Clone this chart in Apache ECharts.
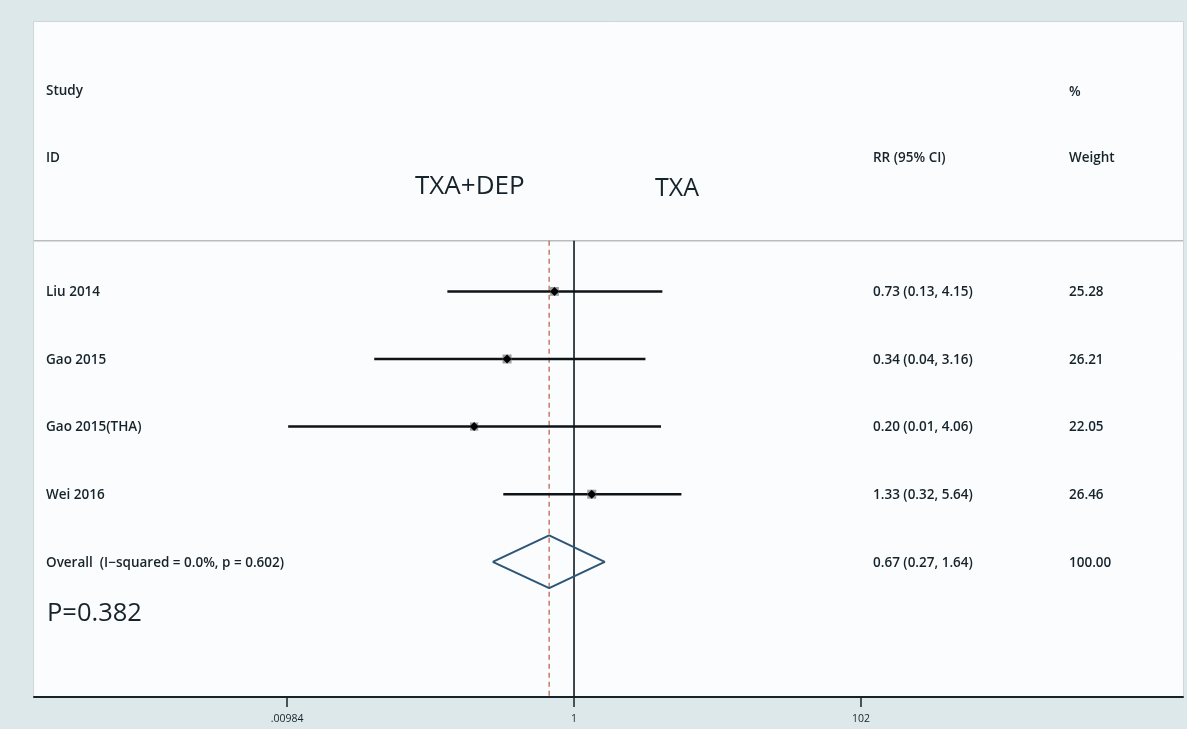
<!DOCTYPE html>
<html>
<head>
<meta charset="utf-8">
<script src="https://cdn.jsdelivr.net/npm/echarts@6/dist/echarts.min.js"></script>
<style>
  html, body { margin: 0; padding: 0; background: #dde8ea; }
  #chart { width: 1187px; height: 729px; }
</style>
</head>
<body>
<div id="chart"></div>
<script>
// Studies in the meta-analysis (risk ratio, 95% CI, weight %)
const studies = ['Liu 2014', 'Gao 2015', 'Gao 2015(THA)', 'Wei 2016'];
const rr      = [0.73, 0.34, 0.20, 1.33];
const ciLow   = [0.13, 0.04, 0.01, 0.32];
const ciHigh  = [4.15, 3.16, 4.06, 5.64];
const weights = [25.28, 26.21, 22.05, 26.46];

// Pooled estimate: [RR, lower, upper], weight
const overallLabel = 'Overall  (I\u2212squared = 0.0%, p = 0.602)';
const overallRR = [0.67, 0.27, 1.64];
const overallWeight = 100.00;

// Axis ticks (risk ratio scale)
const tickValues = [0.00984, 1, 102];
const tickLabels = ['.00984', '1', '102'];

const lg = Math.log10;
const FONT = '"Open Sans", "Liberation Sans", sans-serif';
const INK = '#16232b';

const chart = echarts.init(document.getElementById('chart'));

const rowY = studies.map((_, i) => i + 1);
const overallRow = studies.length + 1;
const sepY = 0.25;
const yMin = -3, yMax = 7;
const xMin = lg(1.667e-4), xMax = lg(18220);

// error bars + weight boxes + point estimates
const studyData = studies.map((s, i) => [lg(ciLow[i]), lg(ciHigh[i]), lg(rr[i]), rowY[i], weights[i]]);

const diamondH = 0.39;
const diamondData = [
  [lg(overallRR[1]), overallRow],
  [lg(overallRR[0]), overallRow - diamondH],
  [lg(overallRR[2]), overallRow],
  [lg(overallRR[0]), overallRow + diamondH],
  [lg(overallRR[1]), overallRow]
];

const fmt = v => v.toFixed(2);

// text columns
const texts = [];
function txt(x, y, s, size, weight) {
  texts.push({
    type: 'text', x: x, y: y, z: 10,
    style: {
      text: s, fill: INK, verticalAlign: 'middle', align: 'left',
      font: `${weight || 600} ${size}px ${FONT}`
    }
  });
}
const FS = 13.5;
txt(46, 91, 'Study', FS);
txt(46, 158, 'ID', FS);
txt(1069, 92, '%', FS);
txt(1069, 158, 'Weight', FS);
txt(873, 158, 'RR (95% CI)', FS);
txt(415, 187, 'TXA+DEP', 26, 400);
txt(655, 189, 'TXA', 25, 400);
const rowPix = r => 21 + (r - yMin) * (676 / (yMax - yMin));
studies.forEach((s, i) => {
  const y = rowPix(rowY[i]) + 1;
  txt(46, y, s, FS);
  txt(873, y, `${fmt(rr[i])} (${fmt(ciLow[i])}, ${fmt(ciHigh[i])})`, FS);
  txt(1069, y, fmt(weights[i]), FS);
});
const oy = rowPix(overallRow) + 1;
txt(46, oy, overallLabel, FS);
txt(873, oy, `${fmt(overallRR[0])} (${fmt(overallRR[1])}, ${fmt(overallRR[2])})`, FS);
txt(1069, oy, overallWeight.toFixed(2), FS);
txt(47, 614, 'P=0.382', 25.5, 400);

chart.setOption({
  animation: false,
  backgroundColor: 'transparent',
  grid: { left: 34, right: 4, top: 21, bottom: 32 },
  graphic: [
    { type: 'rect', left: 33, top: 21, z: -10,
      shape: { width: 1150, height: 676 },
      style: { fill: '#fbfcfd', stroke: '#cfd6d8', lineWidth: 1 } }
  ].concat(texts),
  xAxis: {
    type: 'value',
    min: xMin,
    max: xMax,
    splitLine: { show: false },
    axisLine: { show: true, onZero: false, lineStyle: { color: INK, width: 2 } },
    axisTick: { show: true, length: 10, customValues: tickValues.map(lg), lineStyle: { color: INK, width: 1.5 } },
    axisLabel: {
      show: true, customValues: tickValues.map(lg), margin: 17,
      fontSize: 10.5, color: INK, fontFamily: FONT,
      formatter: v => {
        let best = 0;
        tickValues.forEach((t, i) => { if (Math.abs(lg(t) - v) < Math.abs(lg(tickValues[best]) - v)) best = i; });
        return tickLabels[best];
      }
    }
  },
  yAxis: {
    type: 'value', inverse: true, min: yMin, max: yMax,
    show: false, splitLine: { show: false }
  },
  series: [
    // header separator
    {
      type: 'line', data: [[xMin, sepY], [xMax, sepY]],
      symbol: 'none', silent: true,
      lineStyle: { color: '#b9bdbf', width: 1.5 }
    },
    // line of no effect
    {
      type: 'line', data: [[0, sepY], [0, yMax]],
      symbol: 'none', silent: true, z: 3,
      lineStyle: { color: '#111a20', width: 1.6 }
    },
    // pooled estimate reference
    {
      type: 'line', data: [[lg(overallRR[0]), sepY], [lg(overallRR[0]), yMax]],
      symbol: 'none', silent: true, z: 3,
      lineStyle: { color: '#c97866', width: 1.5, type: [5, 4] }
    },
    // study estimates
    {
      type: 'custom', z: 4,
      data: studyData,
      renderItem: (params, api) => {
        const p0 = api.coord([api.value(0), api.value(3)]);
        const p1 = api.coord([api.value(1), api.value(3)]);
        const pc = api.coord([api.value(2), api.value(3)]);
        const box = 1.75 * Math.sqrt(api.value(4));
        const d = 4.5;
        return {
          type: 'group',
          children: [
            { type: 'line', shape: { x1: p0[0], y1: p0[1], x2: p1[0], y2: p1[1] },
              style: { stroke: '#0e1317', lineWidth: 2.5 } },
            { type: 'rect', shape: { x: pc[0] - box / 2, y: pc[1] - box / 2, width: box, height: box },
              style: { fill: 'rgba(120,128,132,0.75)' } },
            { type: 'polygon', shape: { points: [[pc[0] - d, pc[1]], [pc[0], pc[1] - d], [pc[0] + d, pc[1]], [pc[0], pc[1] + d]] },
              style: { fill: '#000' } }
          ]
        };
      }
    },
    // pooled diamond
    {
      type: 'line', data: diamondData, z: 5,
      symbol: 'none', silent: true,
      lineStyle: { color: '#2c5576', width: 2 }
    }
  ]
});
</script>
</body>
</html>
